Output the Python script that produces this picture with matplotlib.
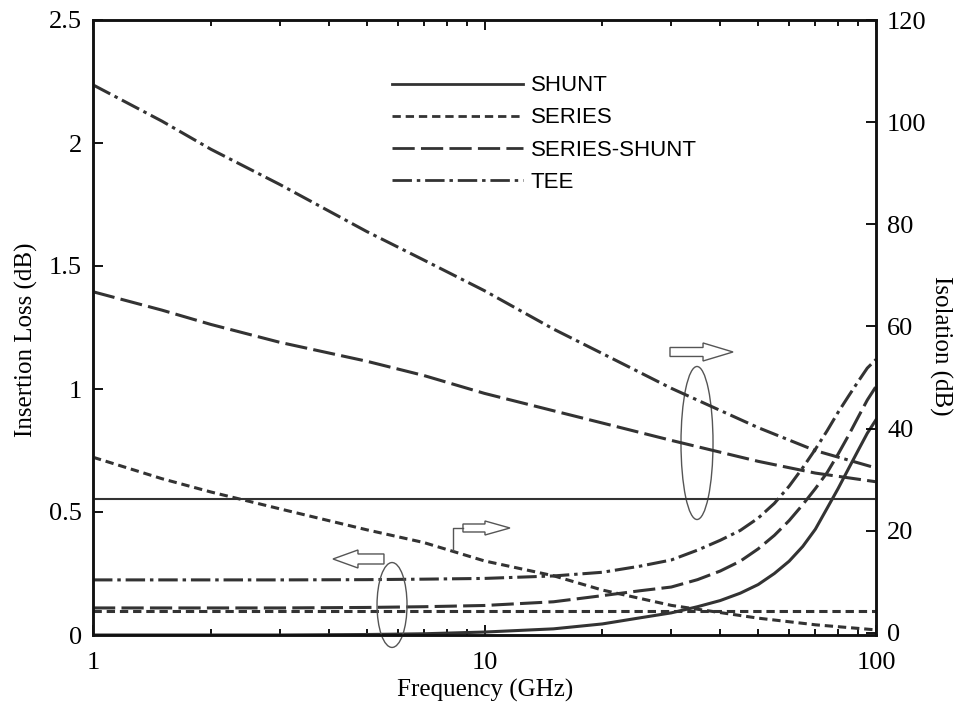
import matplotlib
matplotlib.use("Agg")
import matplotlib.pyplot as plt
from matplotlib.lines import Line2D
from matplotlib.patches import Ellipse, FancyArrow

# ---------------- data ----------------
series_names = ["SHUNT", "SERIES", "SERIES-SHUNT", "TEE"]

# Insertion loss (left axis, dB)
freq_il = [1, 3, 5, 7, 10, 15, 20, 25, 30, 35, 40, 45, 50, 55, 60, 65, 70, 75, 80, 85, 90, 95, 100]
il_shunt = [0.0, 0.0, 0.002, 0.005, 0.012, 0.025, 0.045, 0.07, 0.09, 0.115, 0.14, 0.17, 0.205,
            0.25, 0.30, 0.36, 0.43, 0.515, 0.595, 0.675, 0.75, 0.82, 0.875]
il_series_shunt = [0.11, 0.11, 0.112, 0.115, 0.12, 0.135, 0.16, 0.18, 0.195, 0.225, 0.26, 0.30, 0.35,
                   0.405, 0.465, 0.53, 0.595, 0.66, 0.735, 0.81, 0.885, 0.955, 1.01]
il_tee = [0.224, 0.224, 0.225, 0.227, 0.23, 0.24, 0.255, 0.28, 0.305, 0.345, 0.385, 0.425, 0.475,
          0.535, 0.605, 0.68, 0.755, 0.83, 0.905, 0.97, 1.03, 1.085, 1.12]
freq_il_series = [1, 100]
il_series = [0.097, 0.097]

# Isolation (right axis, dB)
freq_iso = [1, 1.5, 2, 3, 5, 7, 10, 15, 20, 30, 50, 70, 100]
iso_tee = [107.3, 100.2, 94.7, 87.8, 78.6, 73.0, 67.0, 59.5, 54.7, 47.9, 40.2, 35.7, 32.3]
iso_series_shunt = [66.8, 63.2, 60.4, 56.9, 53.2, 50.4, 46.9, 43.5, 41.1, 37.7, 33.6, 31.3, 29.6]
iso_series = [34.4, 30.2, 27.6, 24.3, 20.2, 17.7, 14.1, 11.2, 8.4, 5.4, 2.9, 1.6, 0.6]
freq_iso_shunt = [1, 100]
iso_shunt = [26.2, 26.2]

left_ticks = [0, 0.5, 1, 1.5, 2, 2.5]
left_labels = ["0", "0.5", "1", "1.5", "2", "2.5"]
right_ticks = [0, 20, 40, 60, 80, 100, 120]
right_labels = ["0", "20", "40", "60", "80", "100", "120"]
x_ticks = [1, 10, 100]
x_labels = ["1", "10", "100"]

# ---------------- style ----------------
plt.rcParams["lines.scale_dashes"] = False
serif = ["Liberation Serif", "DejaVu Serif"]
sans = ["Liberation Sans", "DejaVu Sans"]
col = "#333333"
st_solid = dict(color=col, linestyle="-")
st_short = dict(color=col, dashes=(6, 3.5))
st_long = dict(color=col, dashes=(16, 4.5))
st_dd = dict(color=col, dashes=(14, 3.5, 2.5, 3.5))

fig = plt.figure(figsize=(9.61, 7.21), dpi=100)
ax = fig.add_axes([93 / 961, 86 / 721, 783 / 961, 615 / 721])
ax2 = ax.twinx()

ax.set_xscale("log")
ax.set_xlim(1, 100)
ax.set_ylim(0, 2.5)
ax2.set_ylim(-0.4, 120)

# insertion loss curves
lw = 2.2
ax.plot(freq_il, il_shunt, lw=lw, **st_solid)
ax.plot(freq_il_series, il_series, lw=lw, **st_short)
ax.plot(freq_il, il_series_shunt, lw=lw, **st_long)
ax.plot(freq_il, il_tee, lw=lw, **st_dd)

# isolation curves
ax2.plot(freq_iso_shunt, iso_shunt, lw=1.5, **st_solid)
ax2.plot(freq_iso, iso_series, lw=lw, **st_short)
ax2.plot(freq_iso, iso_series_shunt, lw=lw, **st_long)
ax2.plot(freq_iso, iso_tee, lw=lw, **st_dd)

# ticks
ax.set_xticks(x_ticks)
ax.set_xticklabels(x_labels)
ax.set_yticks(left_ticks)
ax.set_yticklabels(left_labels)
ax2.set_yticks(right_ticks)
ax2.set_yticklabels(right_labels)
ax.tick_params(axis="x", which="both", direction="in", top=True, bottom=True, width=1.3)
ax.tick_params(axis="x", which="major", length=7, pad=12)
ax.tick_params(axis="x", which="minor", length=4)
ax.tick_params(axis="y", direction="in", left=True, right=False, length=7, width=1.3, pad=8)
ax2.tick_params(axis="y", direction="in", right=True, left=False, length=7, width=1.3, pad=8)
for a in (ax, ax2):
    for lab in a.get_xticklabels() + a.get_yticklabels():
        lab.set_fontfamily(serif)
        lab.set_fontsize(19)
    for sp in a.spines.values():
        sp.set_linewidth(1.8)
        sp.set_color("#111111")

# axis labels
ax.set_xlabel("Frequency (GHz)", fontsize=18, family=serif)
ax.xaxis.set_label_coords(0.5006, -0.0894)
ax.xaxis.label.set_va("center")
ax.set_ylabel("Insertion Loss (dB)", fontsize=18, family=serif, va="center")
ax.yaxis.set_label_coords(-0.0856, 0.48)
ax2.set_ylabel("Isolation (dB)", fontsize=18, family=serif, rotation=270, va="center")
ax2.yaxis.set_label_coords(1.083, 0.47)

# legend
handles = [
    Line2D([], [], lw=2.0, **st_solid),
    Line2D([], [], lw=2.0, **st_short),
    Line2D([], [], lw=2.0, **st_long),
    Line2D([], [], lw=2.0, **st_dd),
]
leg = ax2.legend(handles, series_names, loc="upper left", bbox_to_anchor=(0.382, 0.910),
                 frameon=False, prop={"family": sans, "size": 16}, handlelength=5.9,
                 handletextpad=0.35, labelspacing=0.5, borderpad=0, borderaxespad=0)

# annotations (axes-fraction coordinates)
ann_col = "#555555"
T = ax2.transAxes
ax2.add_patch(Ellipse((0.3819, 0.0488), 0.0383, 0.138, transform=T, fill=False,
                      edgecolor=ann_col, lw=1.0, clip_on=False))
ax2.add_patch(Ellipse((0.7714, 0.3122), 0.0409, 0.2488, transform=T, fill=False,
                      edgecolor=ann_col, lw=1.0, clip_on=False))
ax2.add_patch(FancyArrow(0.3716, 0.1236, -0.0651, 0, width=0.0163, head_width=0.0293,
                         head_length=0.0319, length_includes_head=True, transform=T,
                         facecolor="white", edgecolor=ann_col, lw=1.0, clip_on=False))
ax2.add_patch(FancyArrow(0.7369, 0.4602, 0.0805, 0, width=0.0146, head_width=0.0293,
                         head_length=0.0383, length_includes_head=True, transform=T,
                         facecolor="white", edgecolor=ann_col, lw=1.0, clip_on=False))
ax2.add_patch(FancyArrow(0.4725, 0.174, 0.060, 0, width=0.013, head_width=0.0228,
                         head_length=0.0319, length_includes_head=True, transform=T,
                         facecolor="white", edgecolor=ann_col, lw=1.0, clip_on=False))
ax2.plot([0.4598, 0.4598, 0.4725], [0.138, 0.174, 0.174], transform=T, color=ann_col,
         lw=1.0, clip_on=False)

fig.savefig("out.png", dpi=100, facecolor="white")
